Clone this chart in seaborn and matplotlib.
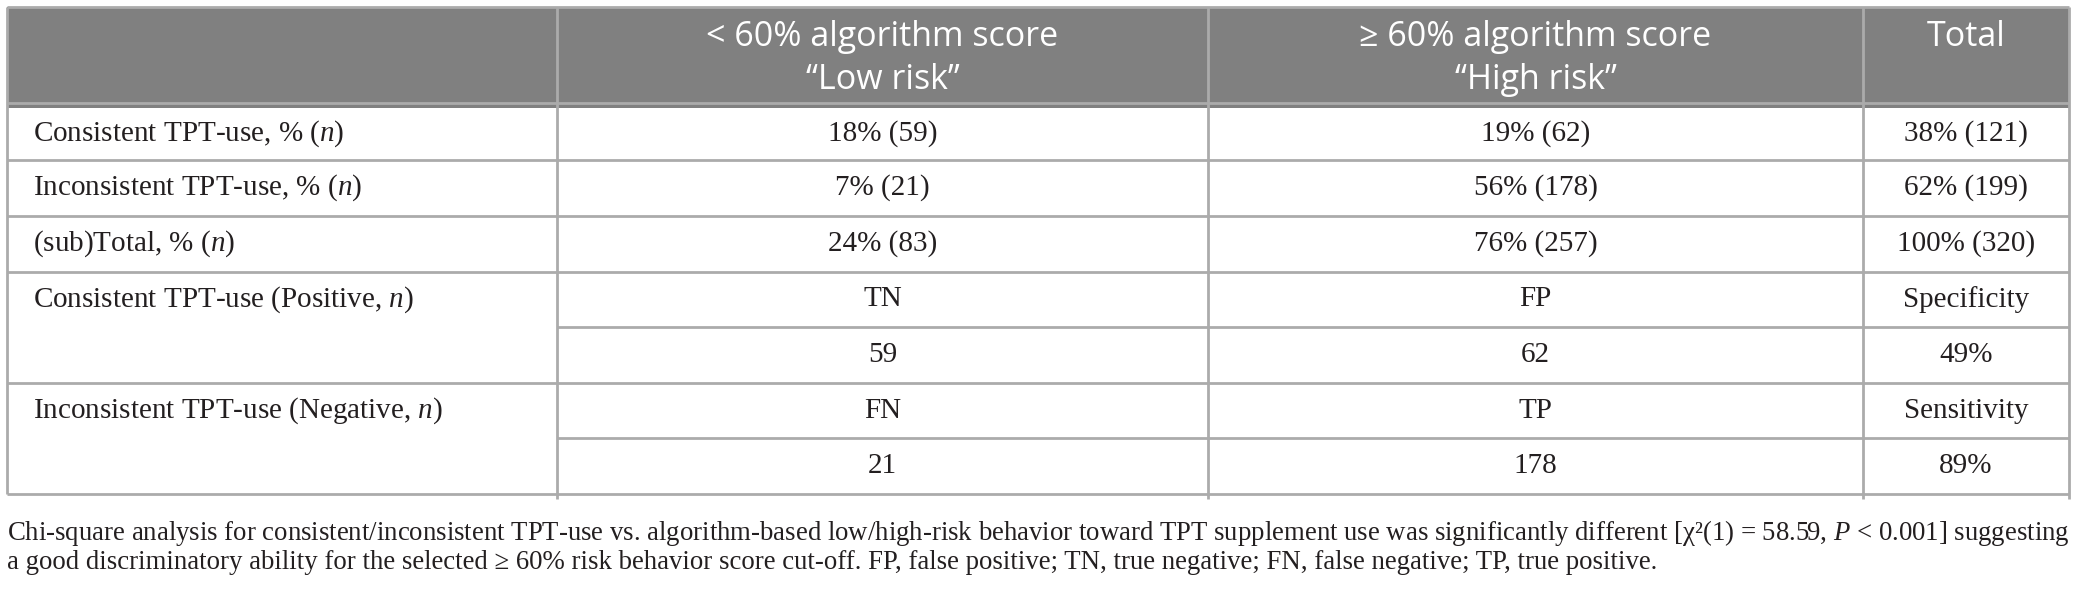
import matplotlib
matplotlib.use("Agg")
import matplotlib.pyplot as plt
from matplotlib.patches import Rectangle
import seaborn as sns

# ---------------- data ----------------
col_headers = ["< 60% algorithm score\n\u201cLow risk\u201d",
               "\u2265 60% algorithm score\n\u201cHigh risk\u201d",
               "Total"]
row_labels = ["Consistent TPT-use, % ($n$)",
              "Inconsistent TPT-use, % ($n$)",
              "(sub)Total, % ($n$)",
              "Consistent TPT-use (Positive, $n$)",
              "Inconsistent TPT-use (Negative, $n$)"]
low_pct = [18, 7, 24]
low_n = [59, 21, 83]
high_pct = [19, 56, 76]
high_n = [62, 178, 257]
total_pct = [38, 62, 100]
total_n = [121, 199, 320]
positive_codes = ["TN", "FP", "Specificity"]
positive_values = ["59", "62", "49%"]
negative_codes = ["FN", "TP", "Sensitivity"]
negative_values = ["21", "178", "89%"]
caption_lines = [
    "Chi-square analysis for consistent/inconsistent TPT-use vs. algorithm-based low/high-risk behavior "
    "toward TPT supplement use was significantly different [\u03c7\u00b2(1) = 58.59, $P$ < 0.001] suggesting",
    "a good discriminatory ability for the selected \u2265 60% risk behavior score cut-off. FP, false positive; "
    "TN, true negative; FN, false negative; TP, true positive.",
]

# ---------------- layout ----------------
W, H = 2076, 589
col_edges = [7, 557, 1208, 1863, 2069]
header_top, header_bot = 7, 108
row_edges = [108, 160, 216, 272, 327, 383, 438, 494]
header_bg = "#808080"
line_c = "#ababab"
text_c = "#231f20"
serif = "Liberation Serif"
sans = "Open Sans"

sns.set_theme(style="white")
plt.rcParams["font.family"] = [serif, "DejaVu Sans"]
plt.rcParams["mathtext.fontset"] = "custom"
plt.rcParams["mathtext.rm"] = serif
plt.rcParams["mathtext.it"] = serif + ":italic"

fig = plt.figure(figsize=(W / 100, H / 100), dpi=100)
ax = fig.add_axes([0, 0, 1, 1])
ax.set_xlim(0, W)
ax.set_ylim(H, 0)
ax.axis("off")

# header band
ax.add_patch(Rectangle((col_edges[0], header_top), col_edges[-1] - col_edges[0],
                       header_bot - header_top, facecolor=header_bg, edgecolor="none", zorder=1))
ax.hlines(header_bot - 5, col_edges[0], col_edges[-1], color=line_c, lw=2, zorder=2)

# grid lines
ax.hlines(header_top, col_edges[0], col_edges[-1], color=line_c, lw=2, zorder=3)
for y in [row_edges[1], row_edges[2], row_edges[3], row_edges[5], row_edges[7]]:
    ax.hlines(y, col_edges[0], col_edges[-1], color=line_c, lw=2, zorder=3)
for y in [row_edges[4], row_edges[6]]:
    ax.hlines(y, col_edges[1], col_edges[-1], color=line_c, lw=2, zorder=3)
ax.vlines(col_edges[0], header_top, row_edges[-1], color=line_c, lw=2, zorder=3)
ax.vlines(col_edges[-1], header_top, row_edges[-1] + 5, color=line_c, lw=2, zorder=3)
for x in col_edges[1:-1]:
    ax.vlines(x, header_top, row_edges[-1] + 5, color=line_c, lw=2, zorder=3)

# header text
hfs = 24.5
for i, h in enumerate(col_headers):
    cx = (col_edges[i + 1] + col_edges[i + 2]) / 2
    lines = h.split("\n")
    for j, ln in enumerate(lines):
        ax.text(cx, 37 + j * 43, ln, ha="center", va="center", color="white",
                fontsize=hfs, family=[sans, "DejaVu Sans"], zorder=4)

# body text
bfs = 21
text_x = 33
def cell_center(i):
    return (col_edges[i] + col_edges[i + 1]) / 2

def put_row(y0, y1, vals):
    yc = (y0 + y1) / 2
    for k, v in enumerate(vals):
        ax.text(cell_center(k + 1), yc, v, ha="center", va="center", fontsize=bfs,
                color=text_c, zorder=4)

for r in range(3):
    y0, y1 = row_edges[r], row_edges[r + 1]
    ax.text(text_x, (y0 + y1) / 2, row_labels[r], ha="left", va="center",
            fontsize=bfs, color=text_c, zorder=4)
    put_row(y0, y1, [f"{low_pct[r]}% ({low_n[r]})", f"{high_pct[r]}% ({high_n[r]})",
                     f"{total_pct[r]}% ({total_n[r]})"])

for g, (codes, vals) in enumerate([(positive_codes, positive_values),
                                   (negative_codes, negative_values)]):
    y0 = row_edges[3 + 2 * g]
    y1 = row_edges[4 + 2 * g]
    y2 = row_edges[5 + 2 * g]
    ax.text(text_x, (y0 + y1) / 2, row_labels[3 + g], ha="left", va="center",
            fontsize=bfs, color=text_c, zorder=4)
    put_row(y0, y1, codes)
    put_row(y1, y2, vals)

# caption, sized so the first line spans the table width
cap_fs = 20
t1 = ax.text(col_edges[0], 540, caption_lines[0], ha="left", va="baseline",
             fontsize=cap_fs, color=text_c)
fig.canvas.draw()
bb = t1.get_window_extent(fig.canvas.get_renderer())
target = (col_edges[-1] - col_edges[0]) + 2
cap_fs = cap_fs * target / bb.width
t1.set_fontsize(cap_fs)
ax.text(col_edges[0], 569, caption_lines[1], ha="left", va="baseline",
        fontsize=cap_fs, color=text_c)

fig.savefig("out.png", dpi=100, facecolor="white")
